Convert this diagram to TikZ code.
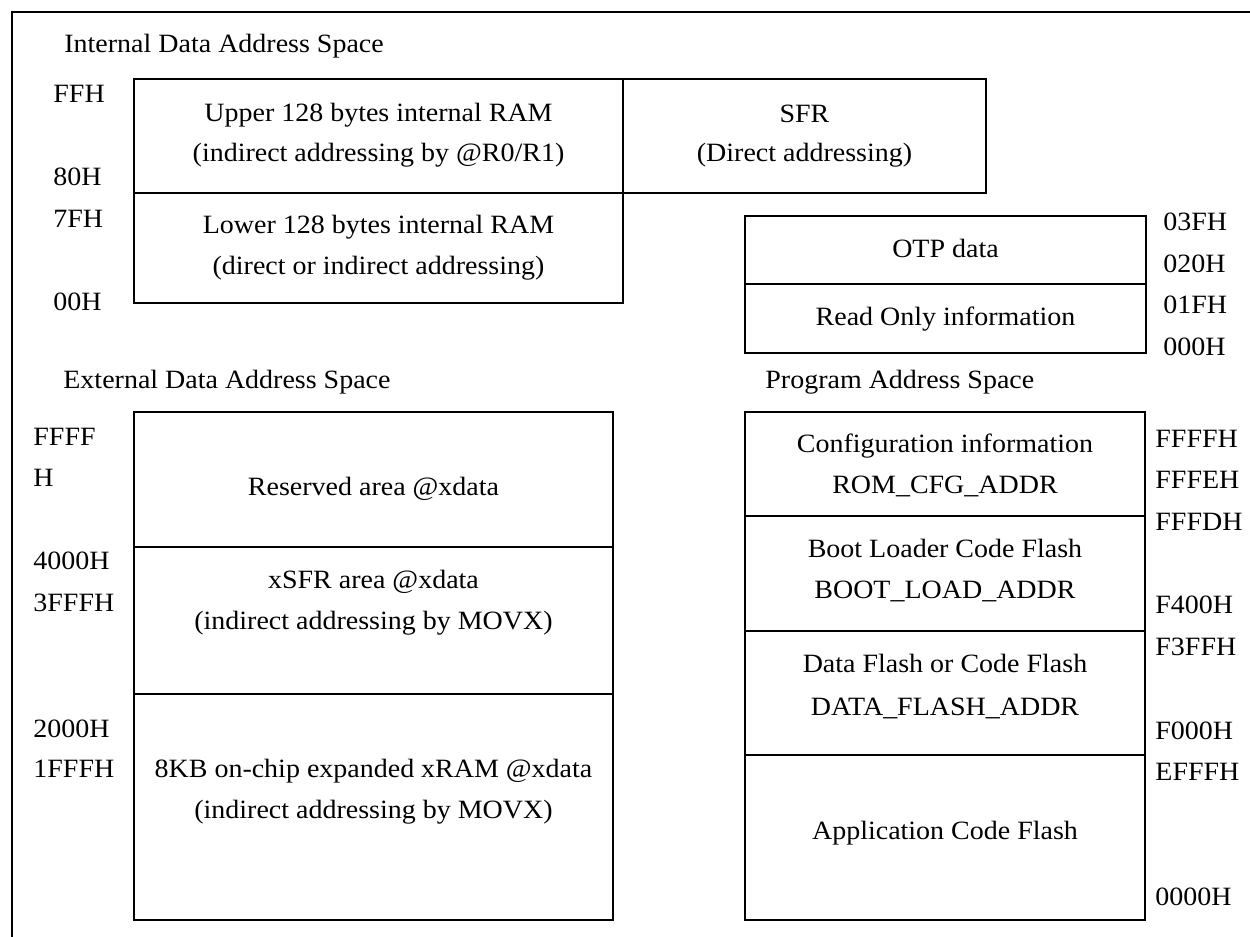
\documentclass[tikz,border=0pt]{standalone}
\usepackage{fontspec}
\setmainfont{Liberation Serif}[FakeStretch=1.06]
\begin{document}
\begin{tikzpicture}[x=0.5pt,y=-0.5pt,
  font=\fontsize{13.2}{16}\selectfont,
  boxline/.style={draw=black,line width=1pt},
  divline/.style={draw=black,line width=1.4pt},
  frameline/.style={draw=black,line width=1.4pt},
  lbl/.style={anchor=base west,inner sep=0pt},
  txt/.style={anchor=base,inner sep=0pt},
  ttl/.style={anchor=base west,inner sep=0pt}]
\useasboundingbox (0,0) rectangle (1250,937);
% outer frame (top and left edges visible)
\draw[frameline] (12,937) -- (12,12) -- (1250,12);

% ---------- Internal data address space ----------
\node[ttl] (tint) at (64,53) {Internal Data Address Space};
\draw[boxline] (134,79) rectangle (623,303);
\draw[divline] (134,193) -- (623,193);
\draw[boxline] (623,79) rectangle (986,193);
\node[txt] (up1) at (378.5,121) {Upper 128 bytes internal RAM};
\node[txt] (up2) at (378.5,162) {(indirect addressing by @R0/R1)};
\node[txt] (lo1) at (378.5,233) {Lower 128 bytes internal RAM};
\node[txt] (lo2) at (378.5,274) {(direct or indirect addressing)};
\node[txt] (sfr1) at (804.5,122) {SFR};
\node[txt] (sfr2) at (804.5,162) {(Direct addressing)};
\node[lbl] (aFF) at (53,102) {FFH};
\node[lbl] (a80) at (53,185) {80H};
\node[lbl] (a7F) at (53,227) {7FH};
\node[lbl] (a00) at (53,310) {00H};

% ---------- OTP ----------
\draw[boxline] (745,216) rectangle (1146,353);
\draw[divline] (745,284) -- (1146,284);
\node[txt] (otp) at (945.5,257) {OTP data};
\node[txt] (ro) at (945.5,325) {Read Only information};
\node[lbl] (o3F) at (1163,230) {03FH};
\node[lbl] (o20) at (1163,272) {020H};
\node[lbl] (o1F) at (1163,313) {01FH};
\node[lbl] (o00) at (1163,355) {000H};

% ---------- External data address space ----------
\node[ttl] (text) at (63,388) {External Data Address Space};
\draw[boxline] (134,412) rectangle (613,920);
\draw[divline] (134,547) -- (613,547);
\draw[divline] (134,694) -- (613,694);
\node[txt] (res) at (373.5,495) {Reserved area @xdata};
\node[txt] (xs1) at (373.5,588) {xSFR area @xdata};
\node[txt] (xs2) at (373.5,629) {(indirect addressing by MOVX)};
\node[txt] (xr1) at (373.5,777) {8KB on-chip expanded xRAM @xdata};
\node[txt] (xr2) at (373.5,818) {(indirect addressing by MOVX)};
\node[lbl] (eF1) at (33,445) {FFFF};
\node[lbl] (eF2) at (33,486) {H};
\node[lbl] (e40) at (33,569) {4000H};
\node[lbl] (e3F) at (33,611) {3FFFH};
\node[lbl] (e20) at (33,737) {2000H};
\node[lbl] (e1F) at (33,777) {1FFFH};

% ---------- Program address space ----------
\node[ttl] (tprg) at (765,388) {Program Address Space};
\draw[boxline] (745,412) rectangle (1145,920);
\draw[divline] (745,516) -- (1145,516);
\draw[divline] (745,631) -- (1145,631);
\draw[divline] (745,755) -- (1145,755);
\node[txt] (cf1) at (945,452) {Configuration information};
\node[txt] (cf2) at (945,493) {ROM\_CFG\_ADDR};
\node[txt] (bt1) at (945,557) {Boot Loader Code Flash};
\node[txt] (bt2) at (945,598) {BOOT\_LOAD\_ADDR};
\node[txt] (df1) at (945,672) {Data Flash or Code Flash};
\node[txt] (df2) at (945,715) {DATA\_FLASH\_ADDR};
\node[txt] (app) at (945,839) {Application Code Flash};
\node[lbl] (pFFFF) at (1155,447) {FFFFH};
\node[lbl] (pFFFE) at (1155,488) {FFFEH};
\node[lbl] (pFFFD) at (1155,530) {FFFDH};
\node[lbl] (pF400) at (1155,613) {F400H};
\node[lbl] (pF3FF) at (1155,655) {F3FFH};
\node[lbl] (pF000) at (1155,739) {F000H};
\node[lbl] (pEFFF) at (1155,780) {EFFFH};
\node[lbl] (p0000) at (1155,905) {0000H};
\end{tikzpicture}
\end{document}
